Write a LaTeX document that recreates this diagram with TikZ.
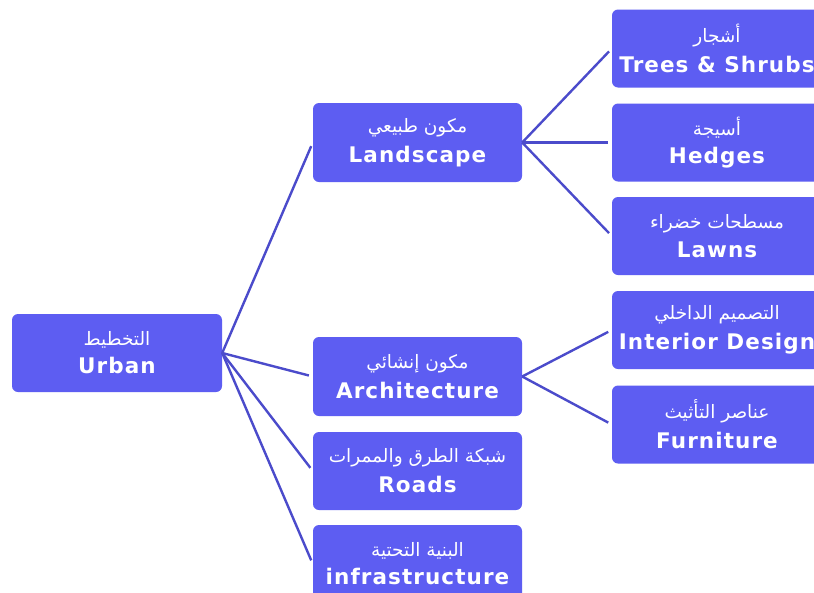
\documentclass[tikz,border=0pt]{standalone}
\usepackage{fontspec}
\TeXXeTstate=1
\newfontfamily\arfont[Script=Arabic]{DejaVu Sans}
\newfontfamily\enfont[LetterSpace=5]{DejaVu Sans Bold}
\definecolor{boxblue}{HTML}{5D5DF2}
\definecolor{lineblue}{HTML}{4B4BCB}
\tikzset{
  tbox/.style={fill=boxblue, rounded corners=6pt, minimum width=210pt, minimum height=78pt,
    inner sep=0pt, text=white, align=center},
  link/.style={draw=lineblue, line width=2.4pt, shorten >=4pt}
}
\newcommand{\bilabel}[2]{{\fontsize{18.5}{22}\arfont\beginR #1\endR}\\[8pt]{\fontsize{21.5}{24}\enfont #2}}
\begin{document}
\begin{tikzpicture}[x=1pt,y=-1pt]
\useasboundingbox (0,0) rectangle (814,592);
\clip (0,0) rectangle (814,592);
\fill[white] (0,0) rectangle (814,592);
\node[tbox] (urban) at (117,353) {\bilabel{التخطيط}{Urban}};
\node[tbox, minimum width=209pt, minimum height=79pt] (land) at (417.5,142.5) {\bilabel{مكون طبيعي}{Landscape}};
\node[tbox, minimum width=209pt, minimum height=79pt] (arch) at (417.5,376.5) {\bilabel{مكون إنشائي}{Architecture}};
\node[tbox, minimum width=209pt] (roads) at (417.5,471) {\bilabel{شبكة الطرق والممرات}{Roads}};
\node[tbox, minimum width=209pt] (infra) at (417.5,564) {\bilabel{البنية التحتية}{infrastructure}};
\node[tbox] (trees) at (717,48.5) {\bilabel{أشجار}{Trees \& Shrubs}};
\node[tbox] (hedges) at (717,142.5) {\bilabel{أسيجة}{Hedges}};
\node[tbox] (lawns) at (717,236) {\bilabel{مسطحات خضراء}{Lawns}};
\node[tbox] (interior) at (717,330) {\bilabel{التصميم الداخلي}{Interior Design}};
\node[tbox] (furn) at (717,424.5) {\bilabel{عناصر التأثيث}{Furniture}};
\foreach \t in {land,arch,roads,infra}{
  \draw[link] (urban.east) -- (\t.west);
}
\foreach \t in {trees,hedges,lawns}{
  \draw[link] (land.east) -- (\t.west);
}
\foreach \t in {interior,furn}{
  \draw[link] (arch.east) -- (\t.west);
}
\end{tikzpicture}
\end{document}
